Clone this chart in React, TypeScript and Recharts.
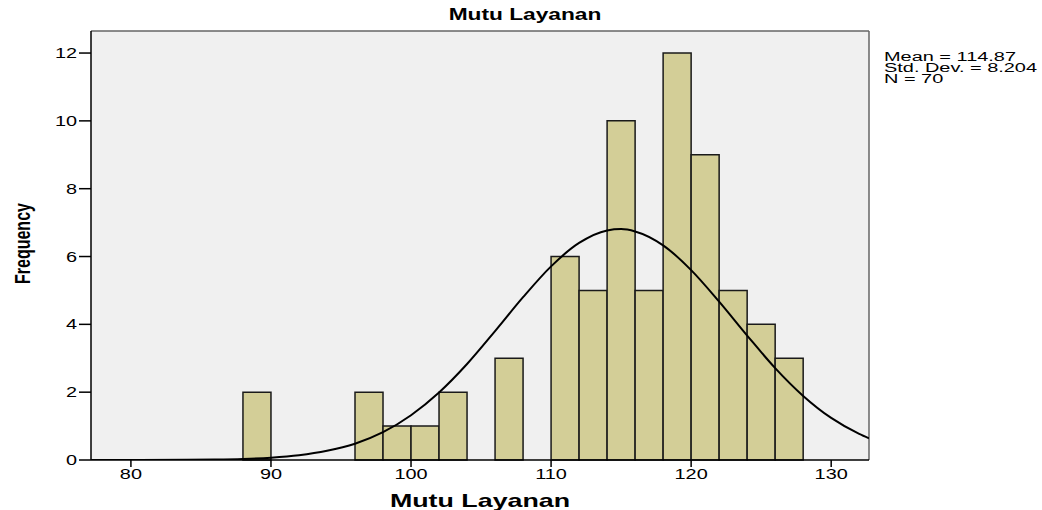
import React from "react";
import {
  ComposedChart,
  Line,
  XAxis,
  YAxis,
  CartesianGrid,
  ReferenceArea,
  ReferenceLine,
  Label,
} from "recharts";

// histogram bins (lower edge) and counts, bin width 2
const binStart = [88, 96, 98, 100, 102, 106, 110, 112, 114, 116, 118, 120, 122, 124, 126];
const binCount = [2, 2, 1, 1, 2, 3, 6, 5, 10, 5, 12, 9, 5, 4, 3];
const binWidth = 2;

// normal curve
const curveX = [77.15, 80, 84, 86, 88, 90, 92, 94, 96, 98, 100, 102, 104, 106, 108, 110, 112, 114, 115, 116, 118, 120, 122, 124, 126, 128, 130, 132, 132.7];
const curveY = [0, 0.001, 0.006, 0.014, 0.032, 0.069, 0.14, 0.27, 0.48, 0.82, 1.32, 1.99, 2.83, 3.8, 4.8, 5.71, 6.4, 6.77, 6.81, 6.74, 6.33, 5.6, 4.67, 3.67, 2.71, 1.89, 1.24, 0.77, 0.64];

const xTicks = [80, 90, 100, 110, 120, 130];
const yTicks = [0, 2, 4, 6, 8, 10, 12];
const stats = ["Mean = 114.87", "Std. Dev. = 8.204", "N = 70"];

const X_MIN = 77.15;
const X_MAX = 132.7;
const Y_MAX = 12.65;

const curveData = curveX.map((x, i) => ({ x, curve: curveY[i] }));

const font = "'Liberation Sans', Arial, sans-serif";
// the original picture is stretched sideways, so is its text
const STRETCH = 1.42;

const XTick = (props: any) => {
  const { x, y, payload } = props;
  return (
    <text
      transform={`translate(${x},${y + 11}) scale(${STRETCH},1)`}
      textAnchor="middle"
      fontSize={14}
      fontFamily={font}
      fill="#000"
    >
      {payload.value}
    </text>
  );
};

const YTick = (props: any) => {
  const { x, y, payload } = props;
  return (
    <text
      transform={`translate(${x},${y + 5}) scale(${STRETCH},1)`}
      textAnchor="end"
      fontSize={14}
      fontFamily={font}
      fill="#000"
    >
      {payload.value}
    </text>
  );
};

export default function App() {
  return (
    <div
      style={{
        position: "absolute",
        left: 0,
        top: 0,
        width: 1042,
        height: 510,
        background: "#fff",
        fontFamily: font,
      }}
    >
      <div
        style={{
          position: "absolute",
          left: 525,
          top: 4,
          whiteSpace: "nowrap",
          fontWeight: "bold",
          fontSize: 16,
          lineHeight: "22px",
          transform: `translateX(-50%) scaleX(${STRETCH})`,
        }}
      >
        Mutu Layanan
      </div>
      <div
        style={{
          position: "absolute",
          left: 884,
          top: 52,
          fontSize: 12,
          lineHeight: "11px",
          color: "#000",
          whiteSpace: "pre",
          transformOrigin: "0 0",
          transform: "scaleX(1.66)",
        }}
      >
        {stats.join("\n")}
      </div>
      <ComposedChart
        width={1042}
        height={510}
        data={curveData}
        margin={{ top: 31, right: 173, bottom: 0, left: 0 }}
      >
        <CartesianGrid fill="#f0f0f0" horizontal={false} vertical={false} />
        <XAxis
          dataKey="x"
          type="number"
          domain={[X_MIN, X_MAX]}
          ticks={xTicks}
          allowDataOverflow
          height={50}
          axisLine={{ stroke: "#000", strokeWidth: 1.5 }}
          tickLine={{ stroke: "#000", strokeWidth: 1.5 }}
          tickSize={7}
          tickMargin={1}
          tick={<XTick />}
        >
          <Label
            content={(p: any) => {
              const vb = p.viewBox;
              return (
                <text
                  transform={`translate(${vb.x + vb.width / 2},${vb.y + 47}) scale(1.49,1)`}
                  textAnchor="middle"
                  fontSize={18}
                  fontWeight="bold"
                  fontFamily={font}
                  fill="#000"
                >
                  Mutu Layanan
                </text>
              );
            }}
          />
        </XAxis>
        <YAxis
          type="number"
          domain={[0, Y_MAX]}
          ticks={yTicks}
          allowDataOverflow
          width={91}
          axisLine={{ stroke: "#000", strokeWidth: 1.5 }}
          tickLine={{ stroke: "#000", strokeWidth: 1.5 }}
          tickSize={12}
          tickMargin={2}
          tick={<YTick />}
        >
          <Label
            content={(p: any) => {
              const vb = p.viewBox;
              return (
                <text
                  transform={`translate(30,${vb.y + vb.height / 2 - 2}) scale(${STRETCH},1) rotate(-90)`}
                  textAnchor="middle"
                  fontSize={16}
                  fontWeight="bold"
                  fontFamily={font}
                  fill="#000"
                >
                  Frequency
                </text>
              );
            }}
          />
        </YAxis>
        <ReferenceLine y={Y_MAX} stroke="#666" strokeWidth={1.5} />
        <ReferenceLine x={X_MAX} stroke="#666" strokeWidth={1.5} />
        {binStart.map((b, i) => (
          <ReferenceArea
            key={b}
            x1={b}
            x2={b + binWidth}
            y1={0}
            y2={binCount[i]}
            fill="#d3ce97"
            fillOpacity={1}
            stroke="#1a1a1a"
            strokeWidth={1.5}
            strokeOpacity={1}
          />
        ))}
        <Line
          type="monotone"
          dataKey="curve"
          stroke="#000"
          strokeWidth={2}
          dot={false}
          isAnimationActive={false}
        />
      </ComposedChart>
    </div>
  );
}
